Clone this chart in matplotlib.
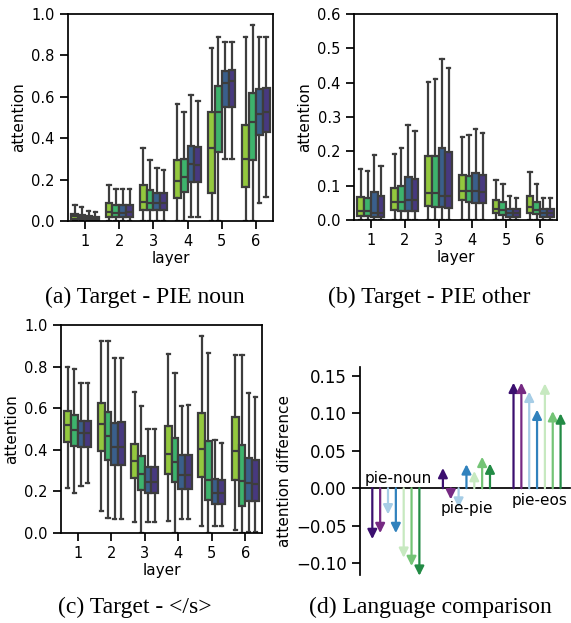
import numpy as np
import matplotlib
matplotlib.use("Agg")
import matplotlib.pyplot as plt
from matplotlib.ticker import FuncFormatter

# box colours per hue level (models)
box_colors = ["#93c83e", "#3db36c", "#3a5f8b", "#47397f"]
layers = [1, 2, 3, 4, 5, 6]

# each box: (whislo, q1, med, q3, whishi); 6 layers x 4 hues
noun_stats = [
    [(0, 0.010, 0.024, 0.035, 0.077), (0, 0.008, 0.020, 0.030, 0.066),
     (0, 0.008, 0.017, 0.024, 0.050), (0, 0.006, 0.015, 0.021, 0.045)],
    [(0, 0.021, 0.043, 0.085, 0.174), (0, 0.021, 0.040, 0.077, 0.156),
     (0, 0.021, 0.041, 0.077, 0.156), (0, 0.021, 0.042, 0.077, 0.156)],
    [(0, 0.052, 0.092, 0.172, 0.351), (0, 0.053, 0.085, 0.150, 0.295),
     (0, 0.053, 0.085, 0.137, 0.258), (0, 0.053, 0.085, 0.134, 0.246)],
    [(0, 0.113, 0.193, 0.296, 0.567), (0, 0.142, 0.214, 0.298, 0.528),
     (0.021, 0.190, 0.274, 0.362, 0.610), (0.021, 0.190, 0.270, 0.356, 0.581)],
    [(0, 0.137, 0.354, 0.528, 0.837), (0, 0.332, 0.527, 0.652, 0.890),
     (0.298, 0.552, 0.665, 0.725, 0.863), (0.298, 0.552, 0.676, 0.730, 0.863)],
    [(0, 0.164, 0.301, 0.462, 0.887), (0, 0.293, 0.478, 0.617, 0.947),
     (0.089, 0.415, 0.515, 0.636, 0.890), (0.118, 0.428, 0.527, 0.641, 0.890)],
]

other_stats = [
    [(0, 0.012, 0.027, 0.068, 0.150), (0, 0.012, 0.025, 0.063, 0.143),
     (0, 0.009, 0.019, 0.083, 0.190), (0, 0.009, 0.019, 0.070, 0.158)],
    [(0, 0.029, 0.053, 0.094, 0.192), (0, 0.026, 0.051, 0.099, 0.210),
     (0, 0.025, 0.058, 0.126, 0.277), (0, 0.025, 0.058, 0.119, 0.258)],
    [(0, 0.042, 0.078, 0.186, 0.402), (0, 0.039, 0.080, 0.186, 0.410),
     (0, 0.037, 0.070, 0.209, 0.469), (0, 0.035, 0.070, 0.199, 0.444)],
    [(0, 0.058, 0.085, 0.131, 0.241), (0, 0.051, 0.085, 0.128, 0.248),
     (0, 0.049, 0.085, 0.136, 0.264), (0, 0.049, 0.083, 0.131, 0.254)],
    [(0, 0.019, 0.032, 0.058, 0.117), (0, 0.015, 0.029, 0.051, 0.105),
     (0, 0.010, 0.019, 0.031, 0.070), (0, 0.010, 0.019, 0.031, 0.065)],
    [(0, 0.021, 0.037, 0.070, 0.140), (0, 0.017, 0.029, 0.052, 0.105),
     (0, 0.010, 0.021, 0.031, 0.065), (0, 0.010, 0.021, 0.031, 0.065)],
]

eos_stats = [
    [(0.217, 0.438, 0.518, 0.586, 0.796), (0.193, 0.417, 0.494, 0.567, 0.787),
     (0.226, 0.414, 0.482, 0.539, 0.722), (0.241, 0.414, 0.482, 0.539, 0.722)],
    [(0.104, 0.393, 0.522, 0.626, 0.923), (0.074, 0.350, 0.465, 0.583, 0.923),
     (0.069, 0.326, 0.414, 0.530, 0.839), (0.069, 0.326, 0.414, 0.535, 0.839)],
    [(0.053, 0.265, 0.345, 0.430, 0.679), (0, 0.205, 0.283, 0.369, 0.610),
     (0.053, 0.193, 0.246, 0.315, 0.498), (0.053, 0.193, 0.246, 0.315, 0.498)],
    [(0.058, 0.283, 0.382, 0.514, 0.859), (0, 0.246, 0.342, 0.457, 0.767),
     (0.066, 0.213, 0.281, 0.377, 0.610), (0.066, 0.213, 0.281, 0.377, 0.615)],
    [(0.032, 0.270, 0.406, 0.575, 0.949), (0, 0.160, 0.254, 0.441, 0.864),
     (0.032, 0.141, 0.193, 0.262, 0.446), (0.032, 0.138, 0.193, 0.257, 0.433)],
    [(0.013, 0.257, 0.395, 0.559, 0.856), (0, 0.128, 0.250, 0.422, 0.856),
     (0.005, 0.154, 0.238, 0.361, 0.671), (0.005, 0.152, 0.234, 0.353, 0.652)],
]

# language comparison arrows
groups = ["pie-noun", "pie-pie", "pie-eos"]
arrow_colors = ["#3b0f6f", "#762a83", "#a6cde6", "#3182bd",
                "#c7e9c0", "#74c476", "#238b45"]
noun_diff = [-0.068, -0.060, -0.035, -0.060, -0.093, -0.104, -0.117]
pie_diff = [0.027, -0.015, -0.026, 0.032, 0.023, 0.042, 0.033]
eos_diff = [0.141, 0.141, 0.129, 0.105, 0.140, 0.103, 0.100]

plt.rcParams["font.size"] = 11
plt.rcParams["xtick.labelsize"] = 10.5
plt.rcParams["ytick.labelsize"] = 10.5
plt.rcParams["axes.labelsize"] = 11
plt.rcParams["axes.linewidth"] = 1.25
plt.rcParams["xtick.major.width"] = 1.25
plt.rcParams["ytick.major.width"] = 1.25
plt.rcParams["xtick.major.size"] = 6
plt.rcParams["ytick.major.size"] = 6

W, H = 571, 623
fig = plt.figure(figsize=(W / 100, H / 100), dpi=100)


def px_axes(l, t, r, b):
    return fig.add_axes([l / W, 1 - b / H, (r - l) / W, (b - t) / H])


def fmt(decimals):
    return FuncFormatter(lambda v, p: f"{v:.{decimals}f}".replace("-", "\u2212"))


edge = "#3d3d3d"


def box_panel(ax, stats, ymax, step):
    for i, row in enumerate(stats):
        for j, (lo, q1, med, q3, hi) in enumerate(row):
            pos = i + (j - 1.5) * 0.2
            st = [dict(whislo=lo, q1=q1, med=med, q3=q3, whishi=hi, fliers=[])]
            ax.bxp(st, positions=[pos], widths=0.2, patch_artist=True,
                   showfliers=False, manage_ticks=False,
                   boxprops=dict(facecolor=box_colors[j], edgecolor=edge, linewidth=1.6),
                   medianprops=dict(color=edge, linewidth=1.6),
                   whiskerprops=dict(color=edge, linewidth=1.6),
                   capprops=dict(color=edge, linewidth=1.6))
    ax.set_xlim(-0.5, len(stats) - 0.5)
    ax.set_xticks(range(len(layers)))
    ax.set_xticklabels(layers)
    ax.set_ylim(0, ymax)
    ax.set_yticks(np.arange(0, ymax + 1e-9, step))
    ax.yaxis.set_major_formatter(fmt(1))
    ax.set_xlabel("layer", labelpad=1)
    ax.set_ylabel("attention", labelpad=4)


ax_a = px_axes(68, 14, 273, 221)
box_panel(ax_a, noun_stats, 1.0, 0.2)
ax_b = px_axes(354, 14, 557, 220)
box_panel(ax_b, other_stats, 0.6, 0.1)
ax_c = px_axes(61, 325, 262, 533)
box_panel(ax_c, eos_stats, 1.0, 0.2)

# (d) arrows
ax_d = px_axes(360, 367, 570, 575)
diffs = [noun_diff, pie_diff, eos_diff]
for g, vals in enumerate(diffs):
    for k, v in enumerate(vals):
        x = g * 9 + k
        ax_d.annotate("", xy=(x, v), xytext=(x, 0), annotation_clip=False,
                      arrowprops=dict(arrowstyle="-|>", color=arrow_colors[k],
                                      lw=1.6, mutation_scale=14,
                                      shrinkA=0, shrinkB=0))
ax_d.set_xlim(-1.57, 25.2)
ax_d.set_ylim(-0.116, 0.162)
ax_d.spines["top"].set_visible(False)
ax_d.spines["right"].set_visible(False)
ax_d.spines["bottom"].set_position(("data", 0))
ax_d.set_xticks([])
ax_d.set_yticks([-0.10, -0.05, 0.0, 0.05, 0.10, 0.15])
ax_d.yaxis.set_major_formatter(fmt(2))
ax_d.tick_params(axis="y", labelsize=12)
ax_d.set_ylabel("attention difference", labelpad=3)
ax_d.text(3.3, 0.003, groups[0], ha="center", va="bottom")
ax_d.text(12.1, -0.017, groups[1], ha="center", va="top")
ax_d.text(21.3, -0.006, groups[2], ha="center", va="top")

cap = dict(ha="center", va="center", fontsize=17, family="Liberation Serif")
fig.text(145 / W, 1 - 297 / H, "(a) Target - PIE noun", **cap)
fig.text(429 / W, 1 - 297 / H, "(b) Target - PIE other", **cap)
fig.text(135 / W, 1 - 607 / H, "(c) Target - </s>", **cap)
fig.text(430 / W, 1 - 607 / H, "(d) Language comparison", **cap)

fig.savefig("out.png", dpi=100)
